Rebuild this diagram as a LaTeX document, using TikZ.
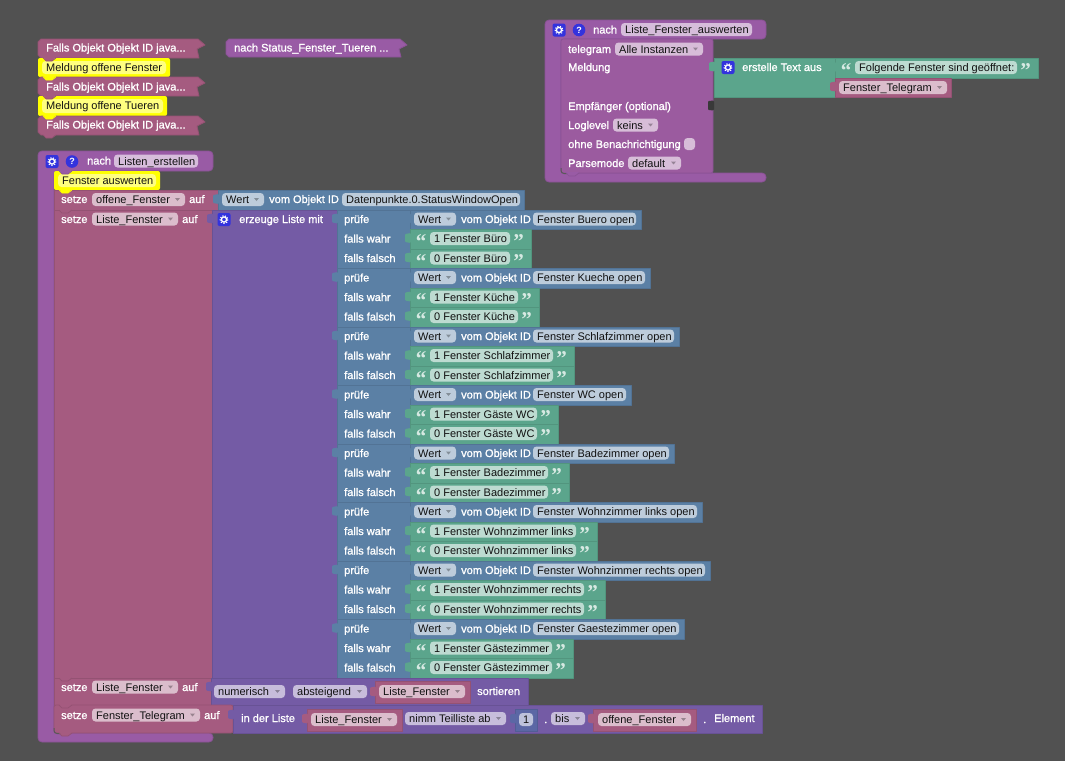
\documentclass[tikz,border=0pt]{standalone}
\usepackage{fontspec}
\setmainfont{Liberation Sans}
\newfontfamily\labf[FakeBold=1.1]{Liberation Sans}
\newfontfamily\quotef{Liberation Serif}
\definecolor{bgc}{HTML}{515151}
\definecolor{proc}{HTML}{995BA5}
\definecolor{procE}{HTML}{8A5295}
\definecolor{vari}{HTML}{A55B80}
\definecolor{variE}{HTML}{945273}
\definecolor{listc}{HTML}{745BA5}
\definecolor{listcE}{HTML}{685295}
\definecolor{logic}{HTML}{5B80A5}
\definecolor{logicE}{HTML}{527395}
\definecolor{textc}{HTML}{5BA58C}
\definecolor{textcE}{HTML}{52957E}
\definecolor{mathc}{HTML}{5B67A5}
\definecolor{mathcE}{HTML}{525D95}
\definecolor{yel}{HTML}{FFFF00}
\definecolor{yelE}{HTML}{FFFF00}
\definecolor{icon}{HTML}{3333DD}
\definecolor{inkc}{HTML}{111111}
\newcounter{nid}
\tikzset{
  lab/.style={anchor=base west,inner sep=0pt,text=white,font=\labf\fontsize{11}{14}\selectfont},
  ink/.style={anchor=base west,inner sep=0pt,text=inkc,font=\fontsize{11}{14}\selectfont},
  qt/.style={anchor=base,inner sep=0pt,font=\quotef\bfseries\fontsize{21}{21}\selectfont},
  pillshape/.style={fill=white,fill opacity=.6,rounded corners=3.5pt},
  blk/.style={line width=.8pt,line join=round}
}
% text label: x, y-centre, text
\newcommand\lb[3]{\stepcounter{nid}\node[lab] (n\arabic{nid}) at (#1,#2+4) {#3};}
% pill without arrow: x0,x1,y,text
\newcommand\pl[4]{\fill[pillshape] (#1,#3-6.5) rectangle (#2,#3+6.5);
  \stepcounter{nid}\node[ink] (n\arabic{nid}) at (#1+4,#3+4) {#4};}
% pill with dropdown arrow
\newcommand\dd[4]{\pl{#1}{#2}{#3}{#4}
  \fill[black,fill opacity=.3] (#2-10,#3-1.5) -- (#2-5,#3-1.5) -- (#2-7.5,#3+1.5) -- cycle;}
% block: x0,y0,x1,y1,colour
\newcommand\bk[5]{\draw[blk,fill=#5,draw=#5E] (#1,#2) rectangle (#3,#4);}
% left puzzle tab: x,y,colour
\newcommand\tb[3]{\fill[#3,rounded corners=1pt] (#1+1,#2-5.5) -- (#1-5,#2-4.5) -- (#1-5,#2+3.5) -- (#1+1,#2+4.5) -- cycle;}
% notch under a statement: x,y,colour
\newcommand\nc[3]{\fill[#3] (#1+5,#2-1) -- (#1+8,#2+3) -- (#1+14,#2+3) -- (#1+18,#2-1) -- cycle;
  \draw[#3E,line width=.7pt] (#1+5,#2) -- (#1+8,#2+3) -- (#1+14,#2+3) -- (#1+18,#2);}
% gear icon centred x,y
\newcommand\gear[2]{\fill[icon,rounded corners=2pt] (#1-6.5,#2-6.5) rectangle (#1+6.5,#2+6.5);
  \draw[white,line width=1.3pt] (#1,#2) circle (2.6);
  \draw[white,line width=1.1pt,dash pattern=on 1.2pt off 1.5pt] (#1,#2) circle (3.9);}
% help icon
\newcommand\help[2]{\fill[icon] (#1,#2) circle (6.3);
  \stepcounter{nid}\node[anchor=base,inner sep=0pt,text=white,font=\bfseries\fontsize{9}{9}\selectfont] (n\arabic{nid}) at (#1,#2+3.2) {?};}
% collapsed block with zigzag end: x0,y0,x1,y1,colour
\newcommand\col[5]{\draw[blk,fill=#5,draw=#5E] (#1+3,#2) -- (#3-7,#2) -- (#3,#2+6) -- (#3-8,#2+10) -- (#3-6,#4) -- (#1+3,#4) -- (#1,#4-3) -- (#1,#2+3) -- cycle;}
% comment: x0,y0,x1,y1,pill x1,text
\newcommand\com[6]{\fill[yel,rounded corners=2pt] (#1,#2) rectangle (#3,#4);
  \fill[white,fill opacity=.5,rounded corners=3.5pt] (#1+4,#2+3) rectangle (#5,#4-3);
  \stepcounter{nid}\node[ink] (n\arabic{nid}) at (#1+8,#2+13.5) {#6};}
% string quote pair
\newcommand\str[4]{% x block start, x block end, y, text
  \stepcounter{nid}\node[qt,text=white!75!textc] (n\arabic{nid}) at (#1+11,#3+10) {“};
  \pl{#1+20}{#2-21}{#3}{#4}
  \stepcounter{nid}\node[qt,text=white!75!textc] (n\arabic{nid}) at (#2-12.5,#3+10) {”};}
\begin{document}
\begin{tikzpicture}[x=1pt,y=-1pt]
\fill[bgc] (0,0) rectangle (1065,761);
\useasboundingbox (0,0) rectangle (1065,761);
% collapsed stack
\col{38}{39}{205}{58}{vari}
\lb{46}{47.5}{Falls Objekt Objekt ID java...}
\com{38}{58}{170}{77}{166}{Meldung offene Fenster}
\nc{38}{58}{vari}
\col{38}{77}{205}{96}{vari}
\lb{46}{86.5}{Falls Objekt Objekt ID java...}
\nc{38}{77}{yel}
\com{38}{96}{167}{116}{163}{Meldung offene Tueren}
\nc{38}{96}{vari}
\col{38}{116}{205}{135}{vari}
\nc{38}{116}{yel}
\nc{38}{135}{vari}
\lb{46}{124.5}{Falls Objekt Objekt ID java...}
\col{226}{39}{407}{57}{proc}
\lb{234}{47.5}{nach Status\_Fenster\_Tueren ...}
% procedure top right
\draw[blk,fill=proc,draw=procE,rounded corners=4pt] (545,182) -- (545,20) -- (766,20) -- (766,39) -- (561,39) -- (561,173) -- (766,173) -- (766,182) -- cycle;
\gear{559}{30}\help{579}{30}
\lb{593}{29.5}{nach}\pl{621}{752}{29.5}{Liste\_Fenster\_auswerten}
\draw[blk,fill=proc!85!vari,draw=procE,rounded corners=2pt] (561,39) -- (713,39) -- (713,173) -- (561,173) -- cycle;
\draw[black!65,line width=1pt,rounded corners=3pt] (561,168) -- (561,173.5) -- (571,173.5);
\nc{561}{173}{proc}
\lb{568}{49}{telegram}\dd{615}{703}{49}{Alle Instanzen}
\lb{568}{67}{Meldung}
\lb{568}{106}{Empfänger (optional)}
\fill[bgc!70!black,rounded corners=1pt] (714,100.5) -- (708,101) -- (708,110) -- (714,110.5) -- cycle;
\lb{568}{125}{Loglevel}\dd{613}{658}{125}{keins}
\lb{568}{144}{ohne Benachrichtigung}
\fill[pillshape] (684,138) rectangle (695,150);
\lb{568}{163}{Parsemode}\dd{628}{681}{163}{default}
\bk{714}{58}{835}{97}{textc}\tb{714}{67}{textc}
\gear{728}{67.5}\lb{742}{67}{erstelle Text aus}
\bk{835}{58}{1038}{78}{textc}\tb{835}{67.5}{textc}
\str{835}{1038}{67.5}{Folgende Fenster sind geöffnet:}
\bk{835}{78}{951}{97}{vari}\tb{835}{87}{vari}
\dd{839}{947}{87.5}{Fenster\_Telegram}
% procedure Listen_erstellen
\draw[blk,fill=proc,draw=procE,rounded corners=4pt] (38,742) -- (38,151) -- (213,151) -- (213,171) -- (54,171) -- (54,733) -- (213,733) -- (213,742) -- cycle;
\gear{52}{161.5}\help{72}{161.5}
\lb{87}{160.5}{nach}\pl{114}{198}{161}{Listen\_erstellen}
\com{54}{171}{160}{190}{156}{Fenster auswerten}
\nc{54}{171}{proc}
\bk{54}{190}{218}{210}{vari}
\nc{54}{190}{yel}
\lb{61}{199}{setze}\dd{92}{185}{199.5}{offene\_Fenster}\lb{189}{199}{auf}
\bk{218}{190}{524}{210}{logic}\tb{218}{199.5}{logic}
\dd{222}{264}{199.5}{Wert}\lb{269}{199}{vom Objekt ID}\pl{342}{520}{199.5}{Datenpunkte.0.StatusWindowOpen}
\bk{54}{210}{212}{678}{vari}
\nc{54}{210}{vari}
\lb{61}{219}{setze}\dd{92}{178}{219}{Liste\_Fenster}\lb{182}{219}{auf}
\bk{212}{210}{337}{678}{listc}\tb{212}{219}{listc}
\gear{224}{219.5}\lb{239}{219}{erzeuge Liste mit}
\foreach \i/\bend/\gend/\oname/\gname in {
 0/641/531/Buero/Büro,
 1/650/539/Kueche/Küche,
 2/679/574/Schlafzimmer/Schlafzimmer,
 3/631/558/WC/Gäste WC,
 4/674/569/Badezimmer/Badezimmer,
 5/702/597/Wohnzimmer links/Wohnzimmer links,
 6/710/605/Wohnzimmer rechts/Wohnzimmer rechts,
 7/684/573/Gaestezimmer/Gästezimmer}{
  \pgfmathsetmacro\ya{210+58.5*\i}
  \pgfmathsetmacro\yb{\ya+58.5}
  \pgfmathsetmacro\yc{\ya+19.5}
  \pgfmathsetmacro\yd{\ya+39}
  \pgfmathsetmacro\ra{\ya+9}
  \pgfmathsetmacro\rb{\ya+28.5}
  \pgfmathsetmacro\rc{\ya+48}
  \bk{337}{\ya}{410}{\yb}{logic}\tb{337}{\ra}{logic}
  \lb{344}{\ra}{prüfe}\lb{344}{\rb}{falls wahr}\lb{344}{\rc}{falls falsch}
  \bk{410}{\ya}{\bend}{\yc}{logic}\tb{410}{\ra}{logic}
  \dd{414}{456}{\ra}{Wert}\lb{461}{\ra}{vom Objekt ID}
  \pl{533}{\bend-5}{\ra}{Fenster \oname{} open}
  \bk{410}{\yc}{\gend}{\yd}{textc}\tb{410}{\rb}{textc}
  \str{410}{\gend}{\rb}{1 Fenster \gname}
  \bk{410}{\yd}{\gend}{\yb}{textc}\tb{410}{\rc}{textc}
  \str{410}{\gend}{\rc}{0 Fenster \gname}
}
\bk{54}{678}{211}{705}{vari}\nc{54}{678}{vari}
\lb{61}{687}{setze}\dd{92}{178}{687}{Liste\_Fenster}\lb{182}{687}{auf}
\bk{211}{678}{528}{705}{listc}\tb{211}{687}{listc}
\dd{214}{285}{691.5}{numerisch}\dd{293}{367}{691.5}{absteigend}
\bk{375}{681}{470}{703}{vari}\tb{375}{692}{vari}
\dd{379}{465}{691.5}{Liste\_Fenster}\lb{477}{691}{sortieren}
\draw[blk,fill=vari,draw=variE,rounded corners=2pt] (54,705) -- (233,705) -- (233,733) -- (54,733) -- cycle;
\draw[black!65,line width=1pt,rounded corners=3pt] (54,728) -- (54,733.5) -- (64,733.5);
\nc{54}{705}{vari}\nc{54}{733}{vari}
\lb{61}{715}{setze}\dd{92}{200}{715}{Fenster\_Telegram}\lb{204}{715}{auf}
\bk{233}{705}{762}{733}{listc}\tb{233}{715}{listc}
\lb{241}{718}{in der Liste}
\bk{307}{709}{402}{731}{vari}\tb{307}{719}{vari}
\dd{311}{397}{719.5}{Liste\_Fenster}
\dd{405}{506}{718.5}{nimm Teilliste ab}
\bk{515}{709}{537}{731}{mathc}\tb{515}{719}{mathc}
\pl{519}{533}{719.5}{1}
\lb{544}{719}{.}\dd{551}{585}{718.5}{bis}
\bk{593}{709}{696}{731}{vari}\tb{593}{719}{vari}
\dd{598}{691}{719.5}{offene\_Fenster}
\lb{703}{719}{.}\lb{714}{718}{Element}
\end{tikzpicture}
\end{document}
